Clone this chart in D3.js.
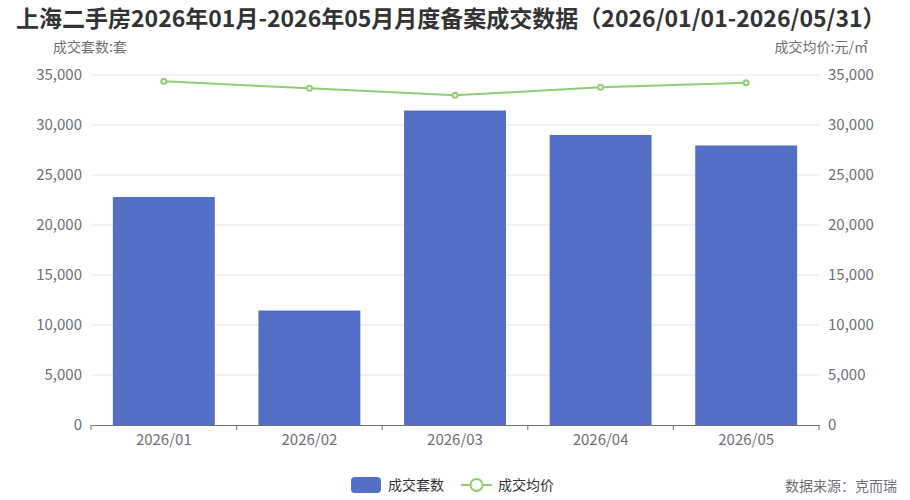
<!DOCTYPE html>
<html lang="zh">
<head>
  <meta charset="UTF-8">
  <title>上海二手房月度备案成交数据</title>
  <script src="https://d3js.org/d3.v7.min.js"></script>
  <style>
    body { margin: 0; background: #fff; }
    text { font-family: "Noto Sans CJK SC", "Noto Sans", sans-serif; }
  </style>
</head>
<body>
<svg id="chart" width="910" height="500"></svg>
<script>
// data
const months = ["2026/01", "2026/02", "2026/03", "2026/04", "2026/05"];
const deals = [22800, 11450, 31450, 29000, 27950];      // 成交套数
const avgPrice = [34370, 33670, 32970, 33770, 34230];   // 成交均价
const ticks = [0, 5000, 10000, 15000, 20000, 25000, 30000, 35000];

const barColor = "#5470c6", lineColor = "#91cc75";
const plotL = 91, plotR = 819, plotT = 75, plotB = 425;

const svg = d3.select("#chart");

const x = d3.scaleBand().domain(months).range([plotL, plotR]).paddingInner(0.3).paddingOuter(0.15);
const xc = d3.scaleBand().domain(months).range([plotL, plotR]);
const yL = d3.scaleLinear().domain([0, 35000]).range([plotB, plotT]);
const yR = d3.scaleLinear().domain([0, 35000]).range([plotB, plotT]);
const fmt = d3.format(",");

// title
svg.append("text").attr("x", 16).attr("y", 27)
  .attr("font-size", 23).attr("font-weight", "bold").attr("fill", "#333")
  .text("上海二手房2026年01月-2026年05月月度备案成交数据（2026/01/01-2026/05/31）");

// grid lines
svg.append("g").selectAll("line").data(ticks.slice(1)).join("line")
  .attr("x1", plotL).attr("x2", plotR)
  .attr("y1", d => yL(d)).attr("y2", d => yL(d))
  .attr("stroke", "#e0e6f1");

// left axis labels
svg.append("g").selectAll("text").data(ticks).join("text")
  .attr("x", plotL - 9).attr("y", d => yL(d)).attr("dy", "0.35em")
  .attr("text-anchor", "end").attr("font-size", 15).attr("fill", "#6e7079")
  .text(fmt);

// right axis labels
svg.append("g").selectAll("text").data(ticks).join("text")
  .attr("x", plotR + 9).attr("y", d => yR(d)).attr("dy", "0.35em")
  .attr("text-anchor", "start").attr("font-size", 15).attr("fill", "#6e7079")
  .text(fmt);

// axis names
svg.append("text").attr("x", 53).attr("y", 52).attr("font-size", 14).attr("fill", "#6e7079").text("成交套数:套");
svg.append("text").attr("x", 868).attr("y", 52).attr("text-anchor", "end")
  .attr("font-size", 14).attr("fill", "#6e7079").text("成交均价:元/㎡");

// bars
svg.append("g").selectAll("rect").data(deals).join("rect")
  .attr("x", (d, i) => x(months[i]))
  .attr("y", d => yL(d))
  .attr("width", x.bandwidth())
  .attr("height", d => yL(0) - yL(d))
  .attr("fill", barColor);

// x axis
const xAxis = svg.append("g").attr("transform", `translate(0,${plotB})`)
  .call(d3.axisBottom(xc).tickSize(0).tickPadding(9));
xAxis.select(".domain").attr("stroke", "#6e7079");
xAxis.selectAll("text").attr("font-size", 15).attr("fill", "#6e7079")
  .attr("font-family", '"Noto Sans CJK SC", sans-serif');
// boundary ticks between categories
svg.append("g").selectAll("line").data(d3.range(months.length + 1)).join("line")
  .attr("x1", i => plotL + i * xc.step()).attr("x2", i => plotL + i * xc.step())
  .attr("y1", plotB).attr("y2", plotB + 5)
  .attr("stroke", "#6e7079");

// line series
const line = d3.line()
  .x((d, i) => xc(months[i]) + xc.bandwidth() / 2)
  .y(d => yR(d));
svg.append("path").datum(avgPrice)
  .attr("d", line).attr("fill", "none")
  .attr("stroke", lineColor).attr("stroke-width", 2);
svg.append("g").selectAll("circle").data(avgPrice).join("circle")
  .attr("cx", (d, i) => xc(months[i]) + xc.bandwidth() / 2)
  .attr("cy", d => yR(d))
  .attr("r", 2.5).attr("fill", "#fff")
  .attr("stroke", lineColor).attr("stroke-width", 2);

// legend
const lg = svg.append("g");
lg.append("rect").attr("x", 351).attr("y", 477).attr("width", 30).attr("height", 16)
  .attr("rx", 4).attr("fill", barColor);
lg.append("text").attr("x", 388).attr("y", 490).attr("font-size", 14).attr("fill", "#333").text("成交套数");
lg.append("line").attr("x1", 461).attr("x2", 492).attr("y1", 485).attr("y2", 485)
  .attr("stroke", lineColor).attr("stroke-width", 2);
lg.append("circle").attr("cx", 476.5).attr("cy", 485).attr("r", 6)
  .attr("fill", "#fff").attr("stroke", lineColor).attr("stroke-width", 2);
lg.append("text").attr("x", 498).attr("y", 490).attr("font-size", 14).attr("fill", "#333").text("成交均价");

// source
svg.append("text").attr("x", 897).attr("y", 491).attr("text-anchor", "end")
  .attr("font-size", 14).attr("fill", "#6e7079").text("数据来源：克而瑞");
</script>
</body>
</html>
